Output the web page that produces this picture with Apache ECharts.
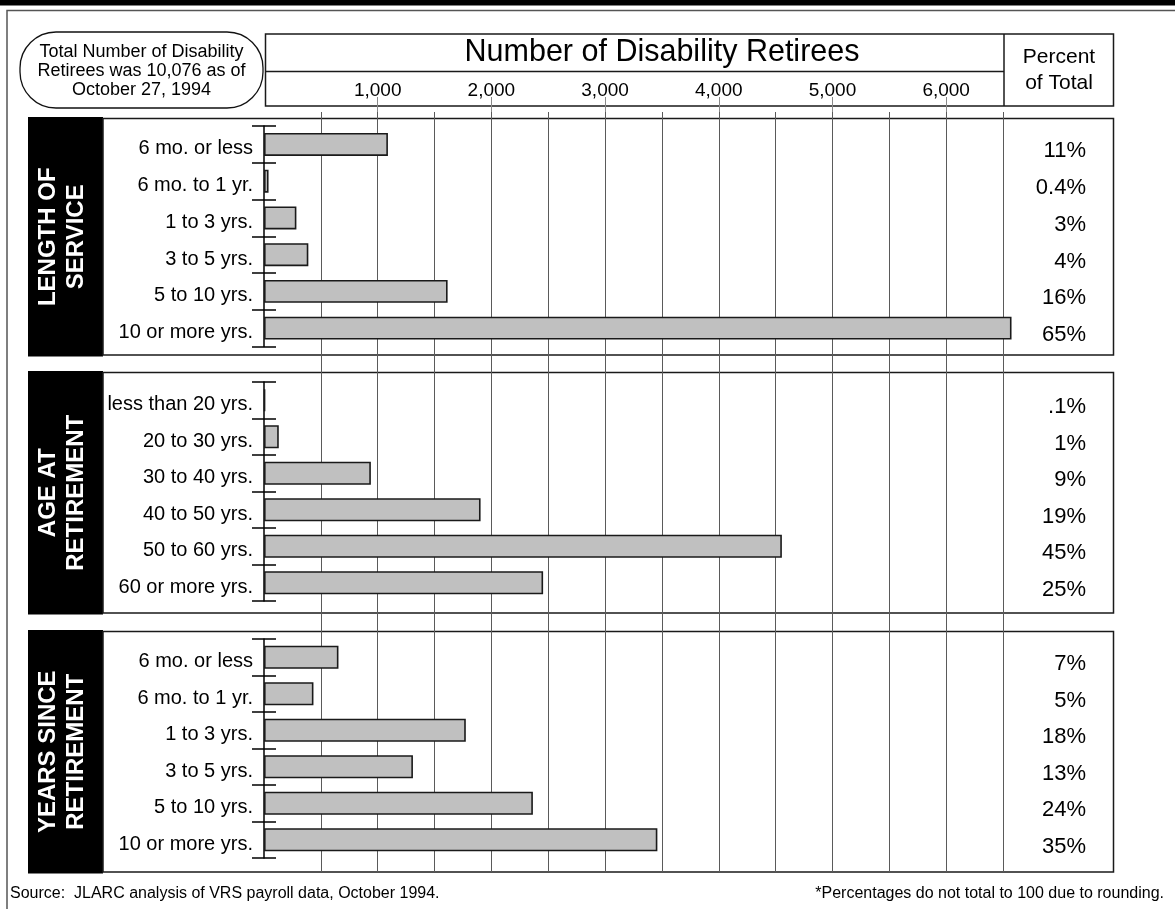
<!DOCTYPE html>
<html>
<head>
<meta charset="utf-8">
<script src="https://cdn.jsdelivr.net/npm/echarts@6/dist/echarts.min.js"></script>
<style>
  html, body { margin: 0; padding: 0; background: #fff; }
  #chart { width: 1175px; height: 909px; }
</style>
</head>
<body>
<div id="chart"></div>
<script>
// ---- data: disability retirees by group ----
const serviceCats = ['6 mo. or less', '6 mo. to 1 yr.', '1 to 3 yrs.', '3 to 5 yrs.', '5 to 10 yrs.', '10 or more yrs.'];
const serviceCounts = [1090, 40, 285, 390, 1615, 6575];
const servicePct = ['11%', '0.4%', '3%', '4%', '16%', '65%'];

const ageCats = ['less than 20 yrs.', '20 to 30 yrs.', '30 to 40 yrs.', '40 to 50 yrs.', '50 to 60 yrs.', '60 or more yrs.'];
const ageCounts = [10, 130, 940, 1905, 4555, 2455];
const agePct = ['.1%', '1%', '9%', '19%', '45%', '25%'];

const sinceCats = ['6 mo. or less', '6 mo. to 1 yr.', '1 to 3 yrs.', '3 to 5 yrs.', '5 to 10 yrs.', '10 or more yrs.'];
const sinceCounts = [655, 435, 1775, 1310, 2365, 3460];
const sincePct = ['7%', '5%', '18%', '13%', '24%', '35%'];

const sectionTitles = ['LENGTH OF\nSERVICE', 'AGE AT\nRETIREMENT', 'YEARS SINCE\nRETIREMENT'];
const headerTitle = 'Number of Disability Retirees';
const pctHeader = 'Percent\nof Total';
const noteText = 'Total Number of Disability\nRetirees was 10,076 as of\nOctober 27, 1994';
const sourceText = 'Source:  JLARC analysis of VRS payroll data, October 1994.';
const footnoteText = '*Percentages do not total to 100 due to rounding.';

// ---- layout ----
const SANS = "'Liberation Sans', Arial, Helvetica, sans-serif";
const AXIS_LEFT = 264;
const PX_PER_UNIT = 739 / 6500;
const SCALE_MAX = 7000;
const PLOT_W = SCALE_MAX * PX_PER_UNIT;
const PLOT_RIGHT = AXIS_LEFT + PLOT_W;

const sections = [
  { cats: serviceCats, counts: serviceCounts, pct: servicePct, title: sectionTitles[0], boxTop: 118.5, boxBottom: 355, plotTop: 126, plotH: 220.5 },
  { cats: ageCats, counts: ageCounts, pct: agePct, title: sectionTitles[1], boxTop: 372.5, boxBottom: 613, plotTop: 382, plotH: 219 },
  { cats: sinceCats, counts: sinceCounts, pct: sincePct, title: sectionTitles[2], boxTop: 631.5, boxBottom: 872, plotTop: 639, plotH: 219 }
];

const grid = [];
const xAxis = [];
const yAxis = [];
const series = [];

sections.forEach((s, i) => {
  grid.push({ left: AXIS_LEFT, top: s.plotTop, width: PLOT_W, height: s.plotH, outerBoundsMode: 'none' });
  xAxis.push({ gridIndex: i, type: 'value', min: 0, max: SCALE_MAX, show: false });
  const yBase = yAxis.length;
  // category axis with labels and outward ticks
  yAxis.push({
    gridIndex: i, type: 'category', position: 'left', inverse: true, data: s.cats,
    axisLine: { show: true, lineStyle: { color: '#000', width: 1.5 } },
    axisTick: { show: true, length: 12, lineStyle: { color: '#000', width: 1.5 } },
    axisLabel: { interval: 0, margin: 11, color: '#000', fontFamily: SANS, fontSize: 20, verticalAlign: 'top', lineHeight: 9 },
    splitLine: { show: false }
  });
  // same categories, ticks pointing inward
  yAxis.push({
    gridIndex: i, type: 'category', position: 'left', offset: 0, inverse: true, data: s.cats,
    axisLine: { show: false },
    axisTick: { show: true, inside: true, length: 12, lineStyle: { color: '#000', width: 1.5 } },
    axisLabel: { show: false },
    splitLine: { show: false }
  });
  // percent-of-total column
  yAxis.push({
    gridIndex: i, type: 'category', inverse: true, position: 'right', data: s.pct,
    axisLine: { show: false }, axisTick: { show: false },
    axisLabel: { interval: 0, align: 'right', margin: 1086 - PLOT_RIGHT, color: '#000', fontFamily: SANS, fontSize: 22, verticalAlign: 'top', lineHeight: 14 },
    splitLine: { show: false }
  });
  series.push({
    type: 'bar', xAxisIndex: i, yAxisIndex: yBase, data: s.counts,
    barWidth: 23, silent: true,
    itemStyle: { color: '#c0c0c0', borderColor: '#1a1a1a', borderWidth: 1.6 }
  });
});

// full-height reference lines: thousands (with labels) and half-thousands
const gridThousands = grid.length;
grid.push({ left: AXIS_LEFT, top: 97, width: PLOT_W, height: 775, outerBoundsMode: 'none' });
xAxis.push({
  gridIndex: gridThousands, type: 'value', min: 0, max: SCALE_MAX, interval: 1000, position: 'top',
  axisLine: { show: false }, axisTick: { show: false },
  axisLabel: {
    showMinLabel: false, showMaxLabel: false, margin: -3, color: '#000', fontFamily: SANS, fontSize: 19,
    formatter: v => String(v).replace(/\B(?=(\d{3})+(?!\d))/g, ',')
  },
  splitLine: { show: true, showMinLine: false, showMaxLine: false, lineStyle: { color: '#8a8a8a', width: 1 } }
});
yAxis.push({ gridIndex: gridThousands, type: 'value', show: false });

const gridHalves = grid.length;
grid.push({ left: AXIS_LEFT, top: 112, width: PLOT_W, height: 760, outerBoundsMode: 'none' });
xAxis.push({
  gridIndex: gridHalves, type: 'value', min: 0, max: SCALE_MAX, interval: 500,
  axisLine: { show: false }, axisTick: { show: false }, axisLabel: { show: false },
  splitLine: { show: true, showMinLine: false, showMaxLine: false, lineStyle: { color: '#5a5a5a', width: 1 } }
});
yAxis.push({ gridIndex: gridHalves, type: 'value', show: false });

// ---- frames, header and captions ----
const stroke = { stroke: '#1a1a1a', lineWidth: 1.5, fill: null };
const graphic = [
  { type: 'rect', shape: { x: 0, y: 0, width: 1175, height: 5.5 }, style: { fill: '#000' } },
  { type: 'polyline', shape: { points: [[7, 909], [7, 10.5], [1175, 10.5]] }, style: { stroke: '#555', lineWidth: 1.5, fill: null } },
  { type: 'rect', shape: { x: 20, y: 32, width: 243, height: 76, r: 36 }, style: { stroke: '#111', lineWidth: 1.3, fill: null } },
  { type: 'text', x: 141.5, y: 71.5, style: { text: noteText, fill: '#000', fontFamily: SANS, fontSize: 18, lineHeight: 19, align: 'center', verticalAlign: 'middle' } },
  { type: 'rect', shape: { x: 265.5, y: 34, width: 848, height: 72 }, style: stroke },
  { type: 'line', shape: { x1: 265.5, y1: 71.5, x2: 1004, y2: 71.5 }, style: stroke },
  { type: 'line', shape: { x1: 1004, y1: 34, x2: 1004, y2: 106 }, style: stroke },
  { type: 'text', x: 662, y: 53, style: { text: headerTitle, fill: '#000', fontFamily: SANS, fontSize: 30.5, align: 'center', verticalAlign: 'middle' } },
  { type: 'text', x: 1059, y: 70, style: { text: pctHeader, fill: '#000', fontFamily: SANS, fontSize: 21, lineHeight: 26, align: 'center', verticalAlign: 'middle' } },
  { type: 'text', x: 10, y: 894, style: { text: sourceText, fill: '#000', fontFamily: SANS, fontSize: 16, align: 'left', verticalAlign: 'middle' } },
  { type: 'text', x: 1164, y: 894, style: { text: footnoteText, fill: '#000', fontFamily: SANS, fontSize: 16, align: 'right', verticalAlign: 'middle' } }
];
sections.forEach(s => {
  graphic.push({ type: 'rect', shape: { x: 28, y: s.boxTop - 1.5, width: 75, height: s.boxBottom - s.boxTop + 3 }, style: { fill: '#000' } });
  graphic.push({ type: 'rect', shape: { x: 103, y: s.boxTop, width: 1010.5, height: s.boxBottom - s.boxTop }, style: stroke });
  graphic.push({
    type: 'text', x: 62, y: (s.boxTop + s.boxBottom) / 2, rotation: Math.PI / 2,
    style: { text: s.title, fill: '#fff', fontFamily: SANS, fontWeight: 'bold', fontSize: 24, lineHeight: 28, align: 'center', verticalAlign: 'middle' }
  });
});

const chart = echarts.init(document.getElementById('chart'), null, { renderer: 'canvas' });
chart.setOption({
  animation: false,
  backgroundColor: '#fff',
  grid, xAxis, yAxis, series, graphic
});
</script>
</body>
</html>
